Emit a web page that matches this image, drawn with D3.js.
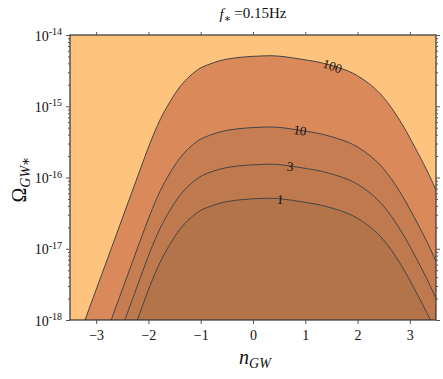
<!DOCTYPE html>
<html>
<head>
<meta charset="utf-8">
<script src="https://cdn.jsdelivr.net/npm/d3@7"></script>
<style>
  body { margin: 0; background: #fff; }
  svg text { font-family: "Liberation Serif", "Times New Roman", "DejaVu Serif", serif; fill: #111; }
</style>
</head>
<body>
<svg id="chart"></svg>
<script>
// contour lines, [n_GW, Omega_GW*]
const nGrid = [-3.213, -2.702, -2.301, -2.161, -1.970, -1.779, -1.587, -1.396, -1.205, -1.014, -0.822, -0.631,
  -0.249, 0.134, 0.325, 0.899, 1.473, 2.046, 2.492, 2.811, 3.131, 3.385, 3.5];
const omega100 = [1.00e-18, 1.05e-17, 6.68e-17, 1.27e-16, 3.02e-16, 6.41e-16, 1.16e-15, 1.88e-15, 2.66e-15, 3.41e-15,
  3.92e-15, 4.36e-15, 4.86e-15, 5.07e-15, 5.12e-15, 4.60e-15, 3.79e-15, 2.55e-15, 1.34e-15, 6.27e-16, 2.38e-16,
  1.02e-16, 6.68e-17];
const omega10 = [1.00e-19, 1.05e-18, 6.68e-18, 1.27e-17, 3.02e-17, 6.41e-17, 1.16e-16, 1.88e-16, 2.66e-16, 3.41e-16,
  3.92e-16, 4.36e-16, 4.86e-16, 5.07e-16, 5.12e-16, 4.60e-16, 3.79e-16, 2.55e-16, 1.34e-16, 6.27e-17, 2.38e-17,
  1.02e-17, 6.68e-18];
const omega3 = [3.00e-20, 3.15e-19, 2.00e-18, 3.81e-18, 9.06e-18, 1.92e-17, 3.48e-17, 5.64e-17, 7.98e-17, 1.02e-16,
  1.18e-16, 1.31e-16, 1.46e-16, 1.52e-16, 1.54e-16, 1.38e-16, 1.14e-16, 7.65e-17, 4.02e-17, 1.88e-17, 7.14e-18,
  3.06e-18, 2.00e-18];
const omega1 = [1.00e-20, 1.05e-19, 6.68e-19, 1.27e-18, 3.02e-18, 6.41e-18, 1.16e-17, 1.88e-17, 2.66e-17, 3.41e-17,
  3.92e-17, 4.36e-17, 4.86e-17, 5.07e-17, 5.12e-17, 4.60e-17, 3.79e-17, 2.55e-17, 1.34e-17, 6.27e-18, 2.38e-18,
  1.02e-18, 6.68e-19];

const levels = ['100', '10', '3', '1'];
const labelN = [1.52, 0.90, 0.71, 0.52];
const bandColors = ['#fec47d', '#d9895a', '#c67d51', '#be794e', '#b3744a'];

const xTicks = [-3, -2, -1, 0, 1, 2, 3];
const yTicks = [1e-18, 1e-17, 1e-16, 1e-15, 1e-14];
const yTickLabels = ['-18', '-17', '-16', '-15', '-14'];
const xDomain = [-3.5, 3.5];
const yDomain = [1e-18, 1e-14];

const W = 443, H = 379;
const margin = {top: 35, right: 7, bottom: 59, left: 70};
const iw = W - margin.left - margin.right;
const ih = H - margin.top - margin.bottom;

const contours = [omega100, omega10, omega3, omega1].map(arr => nGrid.map((n, i) => [n, arr[i]]));

const svg = d3.select('#chart').attr('width', W).attr('height', H);
const chart = svg.append('g').attr('transform', `translate(${margin.left},${margin.top})`);

const x = d3.scaleLinear().domain(xDomain).range([0, iw]);
const y = d3.scaleLog().domain(yDomain).range([ih, 0]);

chart.append('clipPath').attr('id', 'clip')
  .append('rect').attr('width', iw).attr('height', ih);

const plot = chart.append('g').attr('clip-path', 'url(#clip)');

plot.append('rect').attr('width', iw).attr('height', ih).attr('fill', bandColors[0]);

const area = d3.area()
  .x(d => x(d[0])).y1(d => y(d[1])).y0(ih + 50)
  .curve(d3.curveMonotoneX);
const line = d3.line()
  .x(d => x(d[0])).y(d => y(d[1]))
  .curve(d3.curveMonotoneX);

plot.selectAll('path.band')
  .data(contours)
  .join('path')
  .attr('class', 'band')
  .attr('d', area)
  .attr('fill', (d, i) => bandColors[i + 1]);

plot.selectAll('path.cline')
  .data(contours)
  .join('path')
  .attr('class', 'cline')
  .attr('d', line)
  .attr('fill', 'none')
  .attr('stroke', '#454545')
  .attr('stroke-width', 1);

// contour labels, placed on the line
function interp(pts, n) {
  for (let i = 0; i < pts.length - 1; i++) {
    if (n >= pts[i][0] && n <= pts[i + 1][0]) {
      const t = (n - pts[i][0]) / (pts[i + 1][0] - pts[i][0]);
      const ly = Math.log10(pts[i][1]) * (1 - t) + Math.log10(pts[i + 1][1]) * t;
      return Math.pow(10, ly);
    }
  }
  return pts[pts.length - 1][1];
}
levels.forEach((lv, i) => {
  const n = labelN[i];
  const px = x(n), py = y(interp(contours[i], n));
  const p2 = y(interp(contours[i], n + 0.15)), p1 = y(interp(contours[i], n - 0.15));
  const ang = Math.atan2(p2 - p1, x(n + 0.15) - x(n - 0.15)) * 180 / Math.PI;
  chart.append('text')
    .attr('transform', `translate(${px},${py}) rotate(${ang})`)
    .attr('text-anchor', 'middle')
    .attr('dy', '0.35em')
    .style('font-size', '13px')
    .text(lv);
});

// frame
chart.append('rect').attr('width', iw).attr('height', ih)
  .attr('fill', 'none').attr('stroke', '#333').attr('stroke-width', 1.2);

// axes with small outward ticks
const xAxisB = d3.axisBottom(x).tickValues(xTicks).tickSize(4).tickSizeOuter(0)
  .tickFormat(d => d < 0 ? '\u2212' + Math.abs(d) : d);
const gxb = chart.append('g').attr('transform', `translate(0,${ih})`).call(xAxisB);
gxb.select('.domain').remove();
gxb.selectAll('text').style('font-size', '14px').attr('dy', '0.95em');

const gxt = chart.append('g').call(d3.axisTop(x).tickValues(xTicks).tickSize(3).tickFormat(''));
gxt.select('.domain').remove();

const minorY = [];
for (let e = -18; e < -14; e++) for (let m = 2; m <= 9; m++) minorY.push(m * Math.pow(10, e));

const gyl = chart.append('g').call(d3.axisLeft(y).tickValues(yTicks).tickSize(4).tickFormat(''));
gyl.select('.domain').remove();
const gylm = chart.append('g').call(d3.axisLeft(y).tickValues(minorY).tickSize(2).tickFormat(''));
gylm.select('.domain').remove();
const gyr = chart.append('g').attr('transform', `translate(${iw},0)`)
  .call(d3.axisRight(y).tickValues(yTicks).tickSize(4).tickFormat(''));
gyr.select('.domain').remove();
const gyrm = chart.append('g').attr('transform', `translate(${iw},0)`)
  .call(d3.axisRight(y).tickValues(minorY).tickSize(2).tickFormat(''));
gyrm.select('.domain').remove();
chart.selectAll('.tick line').attr('stroke', '#555');

// y tick labels 10^k
yTicks.forEach((v, i) => {
  const t = chart.append('text')
    .attr('x', -8).attr('y', y(v)).attr('dy', '0.4em')
    .attr('text-anchor', 'end')
    .style('font-size', '14px');
  t.append('tspan').text('10');
  t.append('tspan').attr('dy', '-0.55em').style('font-size', '10px').text(yTickLabels[i]);
});

// title
const title = svg.append('text')
  .attr('x', margin.left + iw / 2).attr('y', 19)
  .attr('text-anchor', 'middle')
  .style('font-size', '15px');
title.append('tspan').style('font-style', 'italic').text('f');
title.append('tspan').attr('dy', '0.3em').style('font-size', '11px').text('\u2217');
title.append('tspan').attr('dy', '-0.3em').text('\u2009=0.15Hz');

// x label
const xl = svg.append('text')
  .attr('x', margin.left + iw / 2 + 2).attr('y', 364)
  .attr('text-anchor', 'middle')
  .style('font-size', '20px');
xl.append('tspan').style('font-style', 'italic').text('n');
xl.append('tspan').attr('dy', '0.3em').style('font-size', '14px').style('font-style', 'italic').text('GW');

// y label
const yl = svg.append('text')
  .attr('transform', `translate(26,${margin.top + ih / 2 + 2}) rotate(-90)`)
  .attr('text-anchor', 'middle')
  .style('font-size', '20px');
yl.append('tspan').text('\u03A9');
yl.append('tspan').attr('dy', '0.3em').style('font-size', '14px').style('font-style', 'italic').text('GW\u2217');
</script>
</body>
</html>
